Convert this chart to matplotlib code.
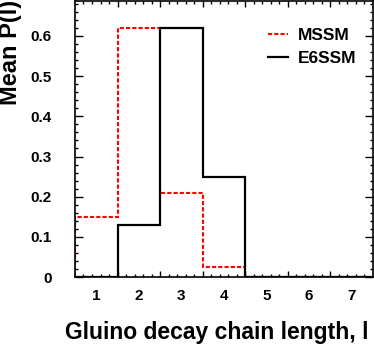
import matplotlib
matplotlib.use("Agg")
import matplotlib.pyplot as plt
import numpy as np

plt.rcParams['font.family'] = ['Liberation Sans', 'DejaVu Sans']
plt.rcParams['font.weight'] = 'bold'

chain_length = [1, 2, 3, 4, 5, 6, 7]
mssm = [0.15, 0.62, 0.21, 0.025, 0.0, 0.0, 0.0]
e6ssm = [0.0, 0.13, 0.62, 0.25, 0.0, 0.0, 0.0]

edges = np.arange(len(chain_length) + 1) + 0.5

fig = plt.figure(figsize=(3.74, 3.45), dpi=100)
ax = fig.add_axes([0.2005, 0.197, 0.7965, 0.8])

ax.stairs(mssm, edges, color="red", linestyle=(0, (2, 1)), linewidth=1.5,
          label="MSSM")
ax.stairs(e6ssm, edges, color="black", linewidth=1.6, label="E6SSM")

ax.set_xlim(0.5, 7.5)
ax.set_ylim(0, 0.687)

# major ticks sit on the bin edges, labels at the bin centres
ax.set_xticks(edges[1:-1])
ax.set_xticklabels([])
ax.set_xticks(np.arange(0.7, 7.5, 0.2), minor=True)
for l in chain_length:
    ax.text(l, -0.043, str(l), transform=ax.get_xaxis_transform(),
            ha="center", va="top", fontsize=11, fontweight="bold")

ax.set_yticks(np.arange(0, 0.65, 0.1))
ax.set_yticklabels(["0", "0.1", "0.2", "0.3", "0.4", "0.5", "0.6"])
ax.set_yticks(np.arange(0, 0.687, 0.02), minor=True)

ax.tick_params(which="both", direction="in", top=True, right=True,
               labelsize=11, width=1)
ax.tick_params(axis="x", which="major", length=4.5)
ax.tick_params(axis="y", which="major", length=5.5)
ax.tick_params(which="minor", length=2.5)
ax.tick_params(axis="y", pad=17)
for s in ax.spines.values():
    s.set_linewidth(1.2)

ax.set_xlabel("Gluino decay chain length, l", fontsize=16.5, fontweight="bold")
ax.xaxis.set_label_coords(0.475, -0.158)
ax.set_ylabel("Mean P(l)", fontsize=17, fontweight="bold")
ax.yaxis.set_label_coords(-0.178, 0.815)

ax.legend(loc="upper left", bbox_to_anchor=(0.594, 0.959), frameon=False,
          handlelength=1.2, handletextpad=0.55, labelspacing=0.45,
          prop={"weight": "bold", "size": 12.5})

fig.savefig("out.png", dpi=100)
